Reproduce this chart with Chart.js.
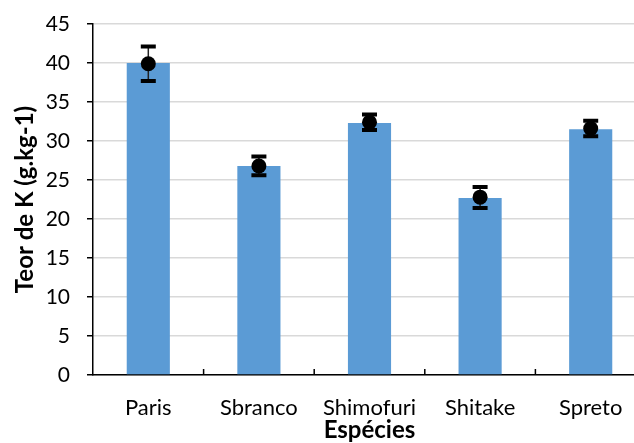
<!DOCTYPE html>
<html>
<head>
<meta charset="utf-8">
<script src="https://cdn.jsdelivr.net/npm/chart.js@4"></script>
<style>
  html, body { margin: 0; padding: 0; background: #fff; overflow: hidden; }
  #wrap { position: relative; width: 660px; height: 443px; }
</style>
</head>
<body>
<div id="wrap"><canvas id="grafico"></canvas></div>
<script>
// dados
var especies = ["Paris", "Sbranco", "Shimofuri", "Shitake", "Spreto"];
var teorK = [40.0, 26.8, 32.3, 22.7, 31.5];
var mediaK = [39.9, 26.8, 32.4, 22.8, 31.6];
var erroMin = [37.7, 25.6, 31.4, 21.4, 30.6];
var erroMax = [42.1, 28.0, 33.4, 24.1, 32.6];
var yTicks = [0, 5, 10, 15, 20, 25, 30, 35, 40, 45];

var fonte = "Lato, 'Open Sans', sans-serif";

// barras de erro + marcas internas no eixo x
var errorBarsPlugin = {
  id: "errorBars",
  afterDatasetDraw: function (chart, args) {
    if (args.index !== 1) return;
    var ctx = chart.ctx;
    var x = chart.scales.x, y = chart.scales.y;
    ctx.save();
    for (var i = 0; i < especies.length; i++) {
      var px = x.getPixelForValue(i);
      var top = y.getPixelForValue(erroMax[i]);
      var bot = y.getPixelForValue(erroMin[i]);
      ctx.strokeStyle = "#222";
      ctx.lineWidth = 1.5;
      ctx.beginPath();
      ctx.moveTo(px, top);
      ctx.lineTo(px, bot);
      ctx.stroke();
      ctx.strokeStyle = "#000";
      ctx.lineWidth = 4;
      ctx.beginPath();
      ctx.moveTo(px - 7.5, top); ctx.lineTo(px + 7.5, top);
      ctx.moveTo(px - 7.5, bot); ctx.lineTo(px + 7.5, bot);
      ctx.stroke();
    }
    ctx.restore();
  },
  afterDraw: function (chart) {
    var ctx = chart.ctx;
    var x = chart.scales.x;
    var base = chart.chartArea.bottom;
    ctx.save();
    ctx.strokeStyle = "#000";
    ctx.lineWidth = 1.5;
    ctx.beginPath();
    for (var i = 1; i <= especies.length; i++) {
      var bx = x.getPixelForValue(i - 0.5);
      ctx.moveTo(bx, base);
      ctx.lineTo(bx, base - 6);
    }
    ctx.stroke();
    ctx.restore();
  }
};

new Chart(document.getElementById("grafico").getContext("2d"), {
  type: "bar",
  data: {
    labels: especies,
    datasets: [
      {
        type: "line",
        label: "Média",
        data: mediaK,
        showLine: false,
        pointRadius: 7.5,
        pointBackgroundColor: "#000",
        pointBorderColor: "#000",
        pointBorderWidth: 0,
        order: 0
      },
      {
        label: "Teor de K",
        data: teorK,
        backgroundColor: "#5b9bd5",
        borderWidth: 0,
        categoryPercentage: 1,
        barPercentage: 0.39,
        order: 1
      }
    ]
  },
  options: {
    responsive: true,
    maintainAspectRatio: false,
    animation: false,
    layout: { padding: { top: 24, right: 14, left: 0, bottom: 0 } },
    plugins: {
      legend: { display: false },
      tooltip: { enabled: false }
    },
    scales: {
      x: {
        offset: true,
        grid: { display: false },
        border: { color: "#000", width: 1.5 },
        ticks: { color: "#000", font: { family: fonte, size: 22 }, padding: 12, maxRotation: 0 },
        title: { display: true, text: "Espécies", color: "#000", font: { family: fonte, size: 24, weight: "bold" }, padding: { top: 0, bottom: -2 } },
        afterFit: function (scale) {
          scale.height = 68;
          scale.paddingLeft = 0;
          scale.paddingRight = 0;
        }
      },
      y: {
        min: 0,
        max: 45,
        afterBuildTicks: function (scale) {
          scale.ticks = yTicks.map(function (v) { return { value: v }; });
        },
        grid: { color: "#d9d9d9", lineWidth: 1.5, tickColor: "#000", tickLength: 6, tickWidth: 1.5 },
        border: { color: "#000", width: 1.5 },
        ticks: { color: "#000", font: { family: fonte, size: 21 }, padding: 17 },
        title: { display: true, text: "Teor de K (g.kg-1)", color: "#000", font: { family: fonte, size: 24, weight: "bold" }, padding: { top: 11, bottom: 0 } },
        afterFit: function (scale) {
          scale.width = 93;
          scale.paddingTop = 0;
          scale.paddingBottom = 0;
        }
      }
    }
  },
  plugins: [errorBarsPlugin]
});
</script>
</body>
</html>
